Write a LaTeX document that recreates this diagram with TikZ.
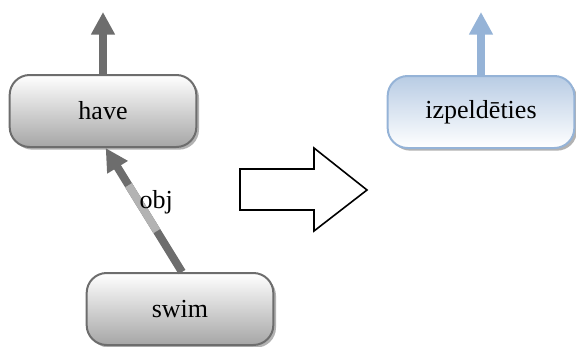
\documentclass[tikz,border=0pt]{standalone}
\usepackage{fontspec}
\setmainfont{Liberation Serif}
\usetikzlibrary{shadows,arrows.meta,calc}
\definecolor{edgegray}{HTML}{6D6D6D}
\definecolor{objgray}{HTML}{B3B3B3}
\definecolor{edgeblue}{HTML}{95B3D7}
\definecolor{topblue}{HTML}{B8CCE4}
\tikzset{
  wordfont/.style={font=\fontsize{19.5}{23}\selectfont},
  word/.style={wordfont, rounded corners=15pt, minimum width=140pt, minimum height=54pt, line width=1.5pt,
    drop shadow={shadow xshift=2pt, shadow yshift=-2pt, fill=black!30, opacity=1}},
  srcword/.style={word, draw=edgegray, top color=white, bottom color=black!35},
  tgtword/.style={word, draw=edgeblue, top color=topblue, bottom color=white},
  uparrow/.style={line width=6pt, -{Triangle[length=17pt,width=17pt]}},
}
\begin{document}
\begin{tikzpicture}[x=0.75pt,y=-0.75pt]
\useasboundingbox (0,0) rectangle (576,347);
\node[srcword] (have) at (103,111) {have};
\node[srcword] (swim) at (180,309) {swim};
\node[tgtword] (izp) at (481,112) {izpeldēties};
\coordinate (haveup) at (103,12);
\coordinate (izpup) at (481,12);
\draw[uparrow, edgegray] (have.north) -- (haveup);
\draw[uparrow, edgeblue] (izp.north) -- (izpup);
% obj link
\draw[uparrow, edgegray] ([xshift=1.5pt]swim.north) -- ([xshift=2pt]have.south);
\draw[objgray, line width=6pt] ($([xshift=1.5pt]swim.north)!0.33!([xshift=2pt]have.south)$) -- ($([xshift=1.5pt]swim.north)!0.7!([xshift=2pt]have.south)$);
\path ([xshift=1.5pt]swim.north) -- ([xshift=2pt]have.south) node[pos=0.56, anchor=west, inner sep=0pt, wordfont] (obj) {obj};
% transfer arrow
\draw[line width=1.2pt, fill=white] (240,169) -- (314,169) -- (314,148) -- (367,190) -- (314,231) -- (314,210) -- (240,210) -- cycle;
\end{tikzpicture}
\end{document}
